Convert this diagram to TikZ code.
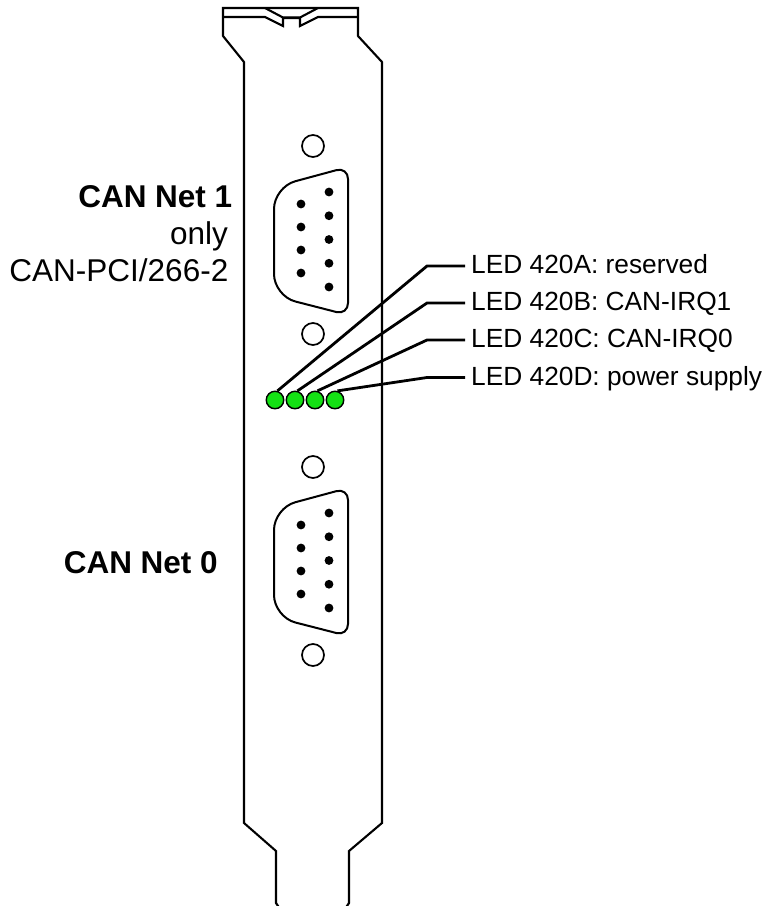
\documentclass[tikz,border=0pt]{standalone}
\usepackage{fontspec}
\setmainfont{Liberation Sans}
\definecolor{ledgreen}{RGB}{20,225,20}
\begin{document}
\begin{tikzpicture}[x=1pt,y=-1pt,
  outline/.style={line width=2.1pt, line join=miter},
  hole/.style={line width=1.7pt},
  dsubshell/.style={line width=2pt},
  led/.style={circle, draw=black, line width=1.4pt, fill=ledgreen, minimum size=17.5pt, inner sep=0pt},
  leader/.style={line width=2.8pt},
  ledlabel/.style={anchor=west, inner xsep=6pt, inner ysep=0pt, text height=15pt, text depth=0pt, font=\fontsize{26.3}{30}\selectfont},
  netlabel/.style={font=\fontsize{31.5}{37}\selectfont, inner sep=0pt, anchor=base east}]
\useasboundingbox (0,0) rectangle (764,906);
\clip (0,0) rectangle (764,906);
% bracket outline
\draw[outline] (282,912) -- (276,903) -- (276,851) -- (244,823) -- (244,62) -- (223,36) -- (223,8)
  -- (358,8) -- (358,36) -- (382,62) -- (382,823) -- (349,851) -- (349,903) -- (343,912);
\draw[outline] (223,17) -- (265,17) -- (283,26) -- (283,18) -- (300,18) -- (300,26) -- (318,17) -- (358,17);
\draw[outline] (265,8) -- (283,17.5) -- (300,17.5) -- (318,8);
% connectors
\foreach \o in {0,321}{
\begin{scope}[yshift=-\o pt]
  \draw[dsubshell] (274,241) [rounded corners=22pt] -- (274,187) [rounded corners=12pt] -- (348,167) -- (348,315) [rounded corners=22pt] -- (274,296) -- cycle;
  \foreach \py in {192,215.75,239.5,263.25,287} \fill (329,\py) circle (4.4pt);
  \foreach \py in {204,227,250,273} \fill (301,\py) circle (4.4pt);
  \draw[hole] (313,146) circle (11pt);
  \draw[hole] (313,334) circle (11pt);
\end{scope}}
% LEDs
\node[led] (ledA) at (275,400) {};
\node[led] (ledB) at (295,400) {};
\node[led] (ledC) at (315,400) {};
\node[led] (ledD) at (335,400) {};
\node[ledlabel] (lblA) at (465,266) {LED 420A: reserved};
\node[ledlabel] (lblB) at (465,303) {LED 420B: CAN-IRQ1};
\node[ledlabel] (lblC) at (465,340) {LED 420C: CAN-IRQ0};
\node[ledlabel] (lblD) at (465,377.5) {LED 420D: power supply};
\coordinate (bA) at (427,266);
\coordinate (bB) at (427,303);
\coordinate (bC) at (427,340);
\coordinate (bD) at (427,377.5);
\draw[leader] (ledA.75) -- (bA) -- (lblA.west);
\draw[leader] (ledB.75) -- (bB) -- (lblB.west);
\draw[leader] (ledC.75) -- (bC) -- (lblC.west);
\draw[leader] (ledD.75) -- (bD) -- (lblD.west);
% labels
\node[netlabel] (net1) at (232.5,207) {\bfseries CAN Net 1};
\node[netlabel] (net1b) at (228,244) {only};
\node[netlabel] (net1c) at (228.5,281.5) {CAN-PCI/266-2};
\node[netlabel] (net0) at (218,573) {\bfseries CAN Net 0};
\end{tikzpicture}
\end{document}
